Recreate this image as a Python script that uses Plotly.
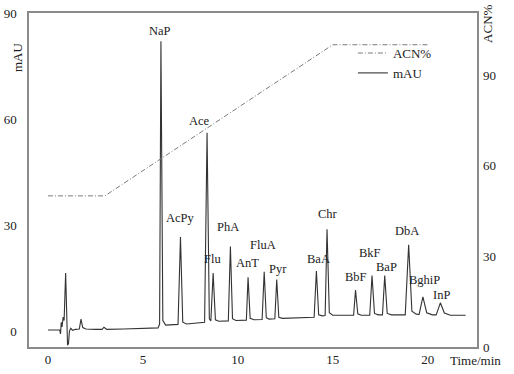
import plotly.graph_objects as go

# ---- data ----
time_min = [0, 0.62, 0.66, 0.70, 0.74, 0.80, 0.85, 0.93, 1.03, 1.08, 1.13, 1.20, 1.30, 1.45, 1.65,
            1.74, 1.83, 2.0, 2.5, 2.85, 2.95, 3.1, 4.0, 5.0, 5.8,
            5.88, 5.95, 6.05, 6.2,
            6.85, 6.98, 7.1, 7.3,
            8.25, 8.38, 8.5, 8.58,
            8.7, 8.82, 9.0,
            9.5, 9.61, 9.72, 9.9,
            10.45, 10.54, 10.65, 10.85,
            11.28, 11.39, 11.5, 11.65,
            11.95, 12.05, 12.16, 12.35,
            14.02, 14.14, 14.26, 14.45,
            14.6, 14.7, 14.82, 15.0,
            16.1, 16.2, 16.32, 16.5,
            16.95, 17.07, 17.2, 17.4,
            17.62, 17.74, 17.87, 18.1,
            18.82, 19.0, 19.17, 19.4,
            19.55, 19.75, 19.95, 20.25,
            20.45, 20.67, 20.88, 21.2,
            22.0]
mau = [0.3, 0.3, -0.8, 2.5, 1.2, 4.0, 3.0, 16.4, -4.0, -3.5, 0.0, 0.8, 0.2, 0.5, 0.6,
       3.4, 1.0, 0.6, 0.5, 0.5, 1.1, 0.5, 0.6, 0.7, 0.9,
       2.0, 82.0, 3.0, 1.7,
       1.9, 26.6, 2.5, 2.0,
       2.5, 56.1, 3.5, 2.9,
       16.4, 3.2, 2.8,
       2.9, 23.9, 3.5, 3.0,
       3.1, 15.2, 3.6, 3.2,
       3.3, 16.8, 3.8, 3.4,
       3.5, 14.6, 3.9, 3.6,
       3.9, 17.0, 4.6, 4.3,
       4.4, 28.8, 5.2, 4.5,
       4.5, 11.6, 4.9, 4.5,
       4.5, 15.7, 5.0, 4.6,
       4.6, 15.7, 5.0, 4.6,
       4.6, 24.4, 5.6, 4.8,
       4.7, 9.7, 5.2, 4.6,
       4.6, 8.0, 5.1, 4.5,
       4.5]

acn_time = [0, 3, 15, 20]
acn_pct = [50, 50, 100, 100]

peak_names = ["NaP", "AcPy", "Ace", "Flu", "PhA", "AnT", "FluA", "Pyr",
              "BaA", "Chr", "BbF", "BkF", "BaP", "DbA", "BghiP", "InP"]
peak_times = [5.95, 6.98, 8.38, 8.7, 9.61, 10.54, 11.39, 12.05,
              14.14, 14.7, 16.2, 17.07, 17.74, 19.0, 19.75, 20.67]

x_ticks = [0, 5, 10, 15, 20]
y_ticks = [0, 30, 60, 90]
y2_ticks = [0, 30, 60, 90]

# label offsets (pixels) from each peak apex
label_dx = [-1, 0, -8, -1, -2, -1, -1, 1, 2, 1, 0, -2, 2, -2, 2, 1]
label_dy = [10, 19, 12, 14, 20, 14, 27, 10.5, 12, 15, 13, 23, 9, 14, 17, 8]

FONT = "Liberation Serif"
TXT = "#222222"
FRAME = "#8a8a8a"

fig = go.Figure()
fig.add_trace(go.Scatter(x=acn_time, y=acn_pct, mode="lines", name="ACN%", yaxis="y2",
                         line=dict(color="#7a7a7a", width=1, dash="5px,2px,1px,2px")))
fig.add_trace(go.Scatter(x=time_min, y=mau, mode="lines", name="mAU",
                         line=dict(color="#333333", width=1.1)))

for name, t, dx, dy in zip(peak_names, peak_times, label_dx, label_dy):
    h = mau[time_min.index(t)]
    fig.add_annotation(x=t, y=h, text=name, showarrow=False, xshift=dx, yshift=dy,
                       xanchor="center", yanchor="middle",
                       font=dict(family=FONT, size=12.5, color=TXT))

fig.add_annotation(xref="paper", yref="paper", x=-0.027, y=0.868, text="mAU", textangle=-90,
                   showarrow=False, xanchor="center", yanchor="middle",
                   font=dict(family=FONT, size=13, color=TXT))
fig.add_annotation(xref="paper", yref="paper", x=1.022, y=0.967, text="ACN%", textangle=-90,
                   showarrow=False, xanchor="center", yanchor="middle",
                   font=dict(family=FONT, size=13, color=TXT))
fig.add_annotation(xref="paper", yref="paper", x=0.996, y=-0.039, text="Time/min",
                   showarrow=False, xanchor="center", yanchor="middle",
                   font=dict(family=FONT, size=13, color=TXT))

fig.update_layout(
    width=514, height=374,
    margin=dict(l=29, r=37, t=13, b=27, autoexpand=False),
    paper_bgcolor="white", plot_bgcolor="white",
    font=dict(family=FONT, size=13, color=TXT),
    showlegend=True,
    legend=dict(x=0.723, y=0.925, xanchor="left", yanchor="top", bgcolor="rgba(0,0,0,0)",
                font=dict(family=FONT, size=13, color=TXT), tracegroupgap=0),
    xaxis=dict(range=[-1.0, 22.6], tickvals=x_ticks, showgrid=False, zeroline=False,
               showline=True, linecolor=FRAME, linewidth=1.5, mirror=True,
               ticks="", ticklabelstandoff=0, automargin=False),
    yaxis=dict(range=[-4.5, 90], tickvals=y_ticks, showgrid=False, zeroline=False,
               showline=True, linecolor=FRAME, linewidth=1.5, mirror=True,
               ticks="", ticklabelstandoff=8, automargin=False),
    yaxis2=dict(range=[0, 110.5], tickvals=y2_ticks, overlaying="y", side="right",
                showgrid=False, zeroline=False, showline=False, ticks="",
                ticklabelstandoff=5, automargin=False),
)

fig.write_html("out.html", config={"displayModeBar": False},
               post_script="document.body.style.margin='0';document.body.style.overflow='hidden';")
